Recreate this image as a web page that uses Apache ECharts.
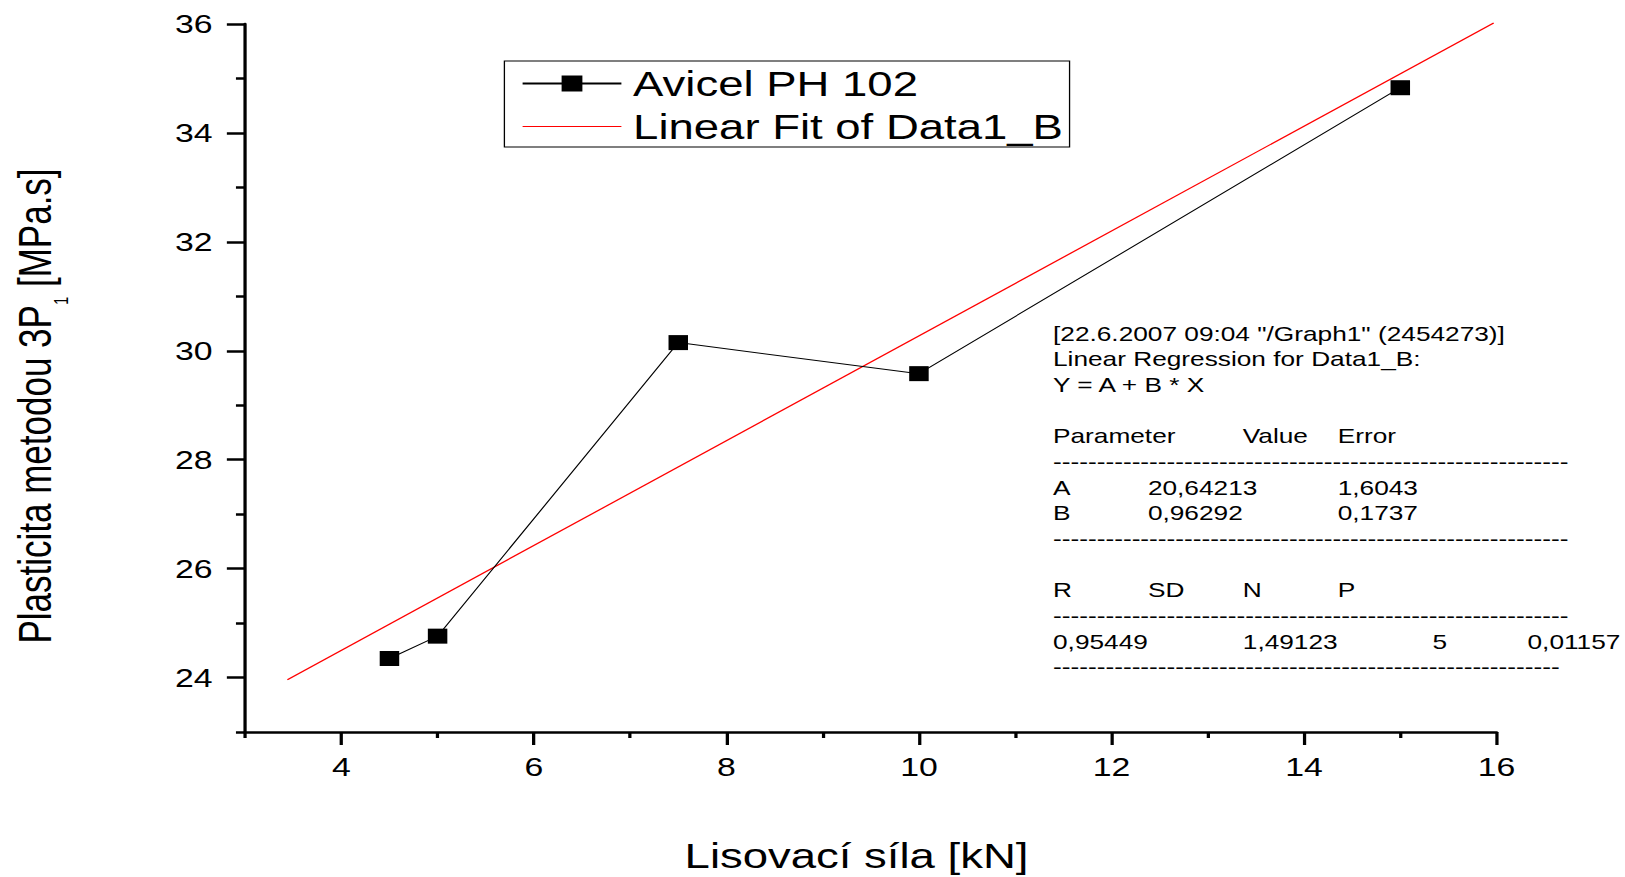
<!DOCTYPE html>
<html lang="en">

<head>
    <meta charset="UTF-8">
    <title>Plasticita - Avicel PH 102</title>
    <script src="https://cdn.jsdelivr.net/npm/echarts@6.0.0/dist/echarts.min.js"></script>
    <style>
        html, body { margin: 0; padding: 0; overflow: hidden; background: #fff; }
        /* the original figure is stretched horizontally, so we draw at 1250px and stretch */
        #main { width: 1250px; height: 877px; transform: scaleX(1.3); transform-origin: 0 0; }
    </style>
</head>

<body>
    <div id="main"></div>
    <script type="text/javascript">
        const xValues = [4.5, 5, 7.5, 10, 15];
        const yValues = [24.35, 24.76, 30.15, 29.58, 34.83];
        const fitX = [3.44, 15.97];
        const fitY = [23.96, 36.02];
        const xMajorTicks = [4, 6, 8, 10, 12, 14, 16];
        const xMinorTicks = [3, 5, 7, 9, 11, 13, 15];
        const yMajorTicks = [24, 26, 28, 30, 32, 34, 36];
        const yMinorTicks = [23, 25, 27, 29, 31, 33, 35];
        const seriesNames = ['Avicel PH 102', 'Linear Fit of Data1_B'];

        const dashLong = '-'.repeat(59);
        const dashShort = '-'.repeat(58);
        // regression report, one entry per text line: [column, text]
        const noteRows = [
            [[0, '[22.6.2007 09:04 "/Graph1" (2454273)]']],
            [[0, 'Linear Regression for Data1_B:']],
            [[0, 'Y = A + B * X']],
            [],
            [[0, 'Parameter'], [2, 'Value'], [3, 'Error']],
            [[0, dashLong]],
            [[0, 'A'], [1, '20,64213'], [3, '1,6043']],
            [[0, 'B'], [1, '0,96292'], [3, '0,1737']],
            [[0, dashLong]],
            [],
            [[0, 'R'], [1, 'SD'], [2, 'N'], [3, 'P']],
            [[0, dashLong]],
            [[0, '0,95449'], [2, '1,49123'], [4, '5'], [5, '0,01157']],
            [[0, dashShort]]
        ];

        const font = "'Liberation Sans', Arial, sans-serif";
        let myChart = echarts.init(document.getElementById('main'), null, { renderer: 'svg' });

        const pairs = xValues.map((x, i) => [x, yValues[i]]);
        const fitPairs = fitX.map((x, i) => [x, fitY[i]]);

        const noteGraphics = [];
        noteRows.forEach((row, r) => {
            row.forEach(([col, text]) => {
                noteGraphics.push({
                    type: 'text',
                    x: 810 + col * 73,
                    y: 333.7 + r * 25.67,
                    style: { text: text, fill: '#000', fontSize: 20.2, fontFamily: font, align: 'left', verticalAlign: 'middle' }
                });
            });
        });

        const axisCommon = {
            type: 'value',
            splitLine: { show: false },
            axisLine: { show: true, lineStyle: { color: '#000', width: 2.5 } }
        };

        let options = {
            animation: false,
            grid: { left: 188.5, right: 98.8, top: 24, bottom: 145, containLabel: false, outerBoundsMode: 'none' },
            legend: {
                orient: 'vertical',
                left: 388,
                top: 61,
                data: [
                    { name: seriesNames[0] },
                    // plain red line, no marker
                    { name: seriesNames[1], icon: 'path://M0,0L100,0L100,1.5L0,1.5Z' }
                ],
                itemWidth: 76,
                itemHeight: 20,
                itemGap: 8,
                padding: [5, 5, 3, 13],
                borderColor: '#000',
                borderWidth: 1,
                textStyle: { color: '#000', fontSize: 35, fontFamily: font, padding: [0, 0, 0, 4] }
            },
            xAxis: [
                Object.assign({}, axisCommon, {
                    min: 3, max: 16,
                    position: 'bottom',
                    name: 'Lisovací síla [kN]',
                    nameLocation: 'middle',
                    nameGap: 106,
                    nameTextStyle: { color: '#000', fontSize: 35, fontFamily: font, padding: [0, 22, 0, 0] },
                    axisTick: { show: true, length: 13, customValues: xMajorTicks, lineStyle: { color: '#000', width: 2.5 } },
                    axisLabel: { show: true, customValues: xMajorTicks, margin: 22, color: '#000', fontSize: 26, fontFamily: font }
                }),
                Object.assign({}, axisCommon, {
                    min: 3, max: 16,
                    position: 'bottom',
                    axisLine: { show: false },
                    axisTick: { show: true, length: 6, customValues: xMinorTicks, lineStyle: { color: '#000', width: 2.5 } },
                    axisLabel: { show: false }
                })
            ],
            yAxis: [
                Object.assign({}, axisCommon, {
                    min: 23, max: 36,
                    position: 'left',
                    axisTick: { show: true, length: 14, customValues: yMajorTicks, lineStyle: { color: '#000', width: 2.5 } },
                    axisLabel: { show: true, customValues: yMajorTicks, margin: 25, color: '#000', fontSize: 26, fontFamily: font }
                }),
                Object.assign({}, axisCommon, {
                    min: 23, max: 36,
                    position: 'left',
                    axisLine: { show: false },
                    axisTick: { show: true, length: 7, customValues: yMinorTicks, lineStyle: { color: '#000', width: 2.5 } },
                    axisLabel: { show: false }
                })
            ],
            graphic: [
                {
                    type: 'text',
                    x: 32.5,
                    y: 406,
                    rotation: Math.PI / 2,
                    style: {
                        text: '{a|Plasticita metodou 3P}{s|1}{a| [MPa.s]}',
                        align: 'center',
                        verticalAlign: 'middle',
                        rich: {
                            a: { fontSize: 35, fontFamily: font, fill: '#000', lineHeight: 36, verticalAlign: 'top' },
                            s: { fontSize: 15, fontFamily: font, fill: '#000', padding: [30, 0, 0, 0], verticalAlign: 'top' }
                        }
                    }
                }
            ].concat(noteGraphics),
            series: [
                {
                    name: seriesNames[1],
                    type: 'line',
                    data: fitPairs,
                    symbol: 'none',
                    clip: false,
                    color: '#ff0000',
                    lineStyle: { color: '#ff0000', width: 1.2 }
                },
                {
                    name: seriesNames[0],
                    type: 'line',
                    data: pairs,
                    symbol: 'rect',
                    symbolSize: 15,
                    color: '#000',
                    itemStyle: { color: '#000' },
                    lineStyle: { color: '#000', width: 1 }
                }
            ]
        };

        myChart.setOption(options);
    </script>
</body>

</html>
